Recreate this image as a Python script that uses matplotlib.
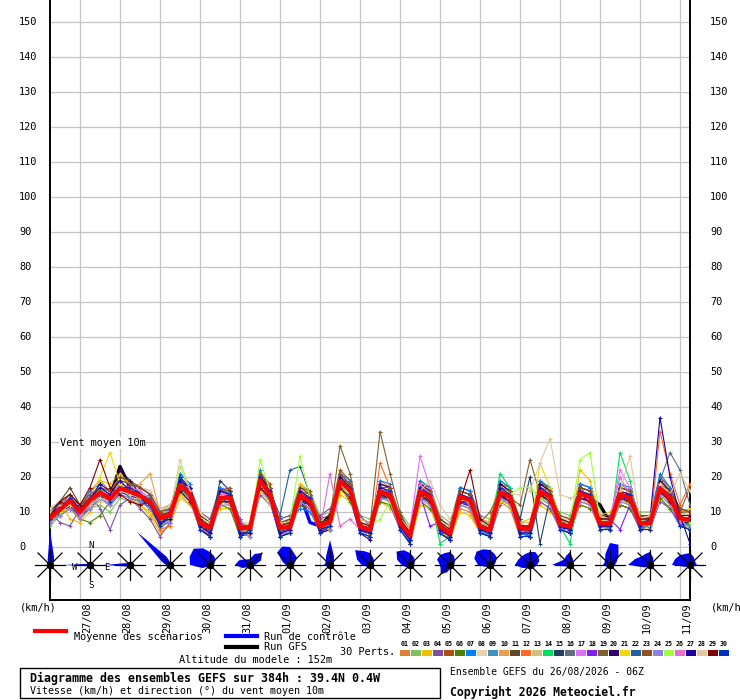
import numpy as np
import matplotlib
matplotlib.use("Agg")
import matplotlib.pyplot as plt
from matplotlib.lines import Line2D
from matplotlib.patches import Rectangle, Polygon

### DONNEES
# pas de 6h depuis le 26/08 06Z jusqu'a 384h
heures = np.arange(0, 385, 6)
dates = ['27/08', '28/08', '29/08', '30/08', '31/08', '01/09', '02/09', '03/09',
         '04/09', '05/09', '06/09', '07/09', '08/09', '09/09', '10/09', '11/09']
graduations = list(range(0, 151, 10))

moyenne = [8.3, 10.6, 13.2, 10.0, 13.4, 15.6, 13.8, 16.8, 15.8, 14.6, 12.9, 8.2, 9.1, 17.7, 15.1,
           6.8, 5.4, 14.0, 14.0, 5.4, 5.4, 19.1, 14.9, 5.4, 5.8, 14.9, 12.9, 5.8, 7.2, 18.7, 16.3,
           5.8, 4.9, 15.8, 14.9, 6.8, 3.4, 15.8, 14.4, 5.8, 3.9, 14.4, 13.4, 5.8, 4.9, 15.5, 14.4,
           5.3, 5.3, 15.8, 14.4, 6.5, 5.8, 15.3, 14.2, 6.8, 6.8, 15.1, 14.0, 6.8, 6.8, 16.8, 14.2,
           8.2, 7.7]

controle = [8, 10, 12, 9, 13, 15, 13, 16, 15, 14, 13, 8, 8, 17, 15, 6, 5, 13, 13, 5, 4, 18, 14,
            4, 5, 15, 7, 6, 7, 18, 15, 5, 4, 15, 14, 6, 2, 15, 13, 5, 3, 13, 12, 5, 4, 15, 13,
            4, 4, 15, 13, 6, 5, 15, 13, 6, 6, 14, 13, 6, 6, 16, 13, 7, 6]

gfs = [8, 11, 13, 10, 13, 16, 14, 23, 17, 15, 13, 8, 9, 18, 15, 7, 5, 14, 14, 5, 5, 19, 15,
       5, 6, 15, 13, 6, 9, 18, 16, 6, 5, 16, 15, 7, 3, 16, 14, 6, 4, 14, 13, 6, 5, 16, 14,
       5, 5, 16, 14, 7, 6, 15, 14, 12, 7, 15, 14, 7, 7, 17, 14, 8, 8]

pert01 = [10,13,15, 12,16,19,16, 20,18,14,11, 5,8,21,18, 5,3,12,16, 3,7,22,17, 3,4,13,11, 4,5,16,19, 4,3,19,17, 5,1,13,12, 4,2,11,10, 4,3,13,11, 3,7,19,16, 5,4,12,11, 9,5,18,16, 5,9,20,16, 6,5]
pert02 = [6,9,11, 8,11,12,10, 14,13,12,15, 10,12,15,12, 9,7,17,12, 8,3,16,12, 8,9,18,16, 9,10,22,13, 9,8,13,12, 10,6,19,17, 9,7,17,16, 9,8,19,17, 8,3,13,11, 10,9,18,17, 5,5,12,11, 10,10,14,11, 11,6]
pert03 = [11,13,8, 7,10,19,18, 21,18,12,9, 4,6,14,12, 8,6,11,11, 4,6,16,17, 3,4,18,15, 4,5,15,13, 7,3,13,11, 8,1,12,11, 4,2,10,9, 4,8,19,11, 7,8,12,10, 8,4,22,19, 9,10,12,11, 5,8,14,16, 10,11]
pert04 = [10,7,6, 11,15,11,5, 12,14,11,8, 3,7,16,17, 10,8,17,16, 8,4,15,12, 8,9,12,10, 9,11,16,18, 9,6,18,12, 5,5,18,17, 8,6,17,16, 9,3,12,15, 4,3,13,11, 5,4,18,17, 9,8,12,11, 5,5,13,11, 6,5]
pert05 = [7,12,15, 12,11,14,13, 15,18,17,16, 11,12,16,13, 6,3,16,17, 6,3,21,18, 6,8,17,16, 5,8,22,19, 5,6,13,17, 8,2,18,17, 5,3,17,16, 7,4,18,17, 4,6,18,17, 8,7,18,12, 8,5,13,17, 8,8,20,17, 11,10]
pert06 = [9,9,11, 8,7,9,13, 16,17,17,15, 9,11,20,13, 8,6,12,11, 3,6,17,13, 6,7,12,11, 7,8,17,13, 7,6,13,12, 9,4,13,11, 7,5,12,11, 7,6,14,12, 6,6,19,16, 8,7,12,11, 8,8,12,11, 8,8,14,11, 9,6]
pert07 = [10,13,12, 11,16,18,12, 18,14,13,15, 7,11,21,18, 5,6,17,15, 4,4,22,13, 4,7,11,10, 5,5,21,19, 4,3,19,18, 5,2,19,17, 4,2,17,16, 5,3,19,17, 4,3,19,17, 6,7,18,17, 5,5,18,17, 5,8,21,17, 9,5]
pert08 = [11,10,11, 9,12,13,12, 15,17,17,16, 11,12,14,16, 10,7,13,15, 7,7,16,12, 7,5,13,14, 7,8,17,14, 7,6,14,16, 8,5,13,12, 7,6,13,12, 7,7,14,15, 7,7,14,15, 8,7,14,15, 8,8,14,15, 8,9,15,12, 10,10]
pert09 = [7,13,15, 12,12,17,16, 19,18,13,11, 6,7,19,17, 5,3,15,15, 3,4,21,17, 3,4,16,14, 4,5,20,18, 4,3,15,16, 5,2,17,15, 4,3,13,14, 4,4,17,16, 4,4,17,15, 5,4,16,15, 6,5,16,13, 5,6,18,15, 6,6]
pert10 = [10,12,14, 11,15,14,15, 18,17,18,21, 10,7,16,13, 8,6,13,15, 6,6,17,16, 6,7,14,12, 7,8,17,14, 7,6,17,13, 8,4,15,15, 7,5,13,12, 7,6,14,15, 6,6,15,15, 8,7,14,12, 8,8,14,12, 8,8,16,15, 9,9]
pert11 = [9,13,17, 12,14,17,15, 20,19,17,15, 10,11,19,17, 9,7,16,16, 7,6,20,17, 7,8,17,15, 8,9,20,18, 8,7,18,17, 9,5,18,16, 8,6,16,15, 8,7,18,16, 7,7,18,16, 9,8,17,16, 9,9,17,16, 9,9,19,16, 11,10]
pert12 = [7,9,11, 8,11,17,12, 15,14,12,10, 5,6,18,16, 5,3,15,12, 4,3,17,13, 4,4,13,11, 4,5,20,17, 4,3,24,17, 5,2,18,13, 4,2,15,12, 4,3,17,13, 3,3,17,13, 5,4,13,12, 5,5,16,15, 5,5,33,21, 12,18]
pert13 = [10,12,13, 11,11,13,15, 17,14,13,14, 10,10,16,13, 8,7,13,12, 7,6,17,13, 7,7,13,14, 7,8,17,14, 8,7,14,13, 8,5,14,15, 7,6,13,14, 8,7,14,12, 7,7,14,12, 8,8,13,12, 9,8,13,12, 8,8,15,15, 10,9]
pert14 = [7,10,14, 11,14,16,13, 18,15,16,14, 7,10,16,14, 6,4,15,15, 4,6,17,16, 4,7,16,14, 5,6,17,17, 5,4,17,16, 6,2,17,15, 1,3,15,14, 5,4,21,17, 4,4,14,15, 6,1,16,15, 6,5,27,19, 6,6,17,15, 7,6]
pert15 = [10,13,12, 9,11,14,15, 17,15,14,11, 7,8,17,14, 6,4,19,16, 4,4,17,13, 4,5,13,12, 5,6,17,17, 5,4,14,14, 6,2,14,13, 5,3,13,12, 5,4,14,15, 8,20,1,14, 6,5,14,15, 6,6,14,15, 6,6,15,15, 7,7]
pert16 = [9,10,12, 9,12,15,13, 16,15,14,12, 7,8,17,14, 6,4,13,13, 4,4,18,14, 4,5,14,12, 5,6,18,15, 5,4,15,14, 6,2,15,13, 5,3,13,12, 5,4,15,13, 4,4,15,13, 6,5,14,13, 6,6,14,13, 6,9,19,27, 22,12]
pert17 = [9,11,13, 11,14,17,15, 18,17,16,14, 9,10,18,16, 8,6,15,15, 6,6,20,16, 6,7,16,14, 7,8,20,17, 7,6,17,16, 8,5,26,17, 7,5,15,14, 7,6,17,15, 6,6,17,15, 8,7,16,15, 8,8,22,17, 8,8,18,15, 9,9]
pert18 = [9,12,11, 9,12,14,12, 15,18,17,15, 10,8,19,16, 8,6,13,13, 7,4,18,16, 6,5,14,12, 7,5,17,15, 7,6,15,14, 8,2,15,6, 7,5,13,12, 7,6,15,13, 6,6,15,13, 8,7,14,13, 8,8,5,12, 8,6,16,13, 9,7]
pert19 = [8,11,13, 10,13,16,14, 17,16,15,13, 8,9,18,15, 7,5,14,14, 5,5,19,15, 5,6,15,13, 6,8,29,21, 7,6,33,21, 10,4,16,14, 6,4,14,13, 7,10,16,14, 12,25,15,13, 9,8,15,14, 8,7,15,14, 9,8,17,14, 10,17]
pert20 = [9,12,14, 11,14,18,16, 22,19,15,12, 6,8,20,17, 5,3,16,15, 3,4,20,17, 3,4,14,12, 4,5,19,17, 4,2,18,17, 5,1,18,16, 4,2,16,15, 4,3,18,16, 3,3,18,16, 5,4,17,16, 5,5,17,16, 5,5,19,16, 6,5]
pert21 = [9,10,11, 8,14,20,27, 18,14,12,10, 6,8,15,13, 5,6,13,12, 6,3,16,13, 6,4,13,15, 7,5,16,14, 7,4,17,13, 8,2,15,13, 4,3,12,11, 7,4,13,12, 6,4,24,17, 8,5,14,15, 5,5,13,12, 7,5,15,13, 8,5]
pert22 = [8,12,14, 10,12,14,15, 17,14,13,14, 9,8,16,16, 8,4,15,13, 6,4,17,16, 9,22,23,15, 7,6,17,17, 7,4,14,16, 8,2,17,13, 7,3,15,14, 7,4,14,15, 6,4,15,15, 8,5,16,13, 8,6,14,15, 8,6,15,15, 9,7]
pert23 = [8,12,14, 12,15,17,16, 19,18,17,15, 10,11,19,17, 8,6,16,15, 6,6,21,17, 6,7,16,15, 7,8,21,18, 7,6,17,17, 8,4,17,16, 7,5,16,15, 7,6,17,16, 6,6,17,16, 8,7,17,16, 8,8,17,16, 8,8,18,16, 10,10]
pert24 = [7,9,11, 8,11,14,12, 15,14,13,11, 7,7,16,13, 5,4,12,12, 4,3,17,13, 4,4,13,11, 5,5,17,14, 5,4,14,13, 5,2,14,12, 5,3,12,11, 5,4,14,12, 4,4,14,12, 5,5,13,12, 6,5,13,12, 6,6,15,12, 7,6]
pert25 = [9,10,12, 11,12,17,13, 16,17,14,12, 9,8,23,16, 6,6,15,13, 6,4,25,16, 6,7,26,14, 7,6,17,15, 7,6,8,13, 6,4,15,15, 7,5,15,12, 7,6,17,15, 17,17,14,13, 8,7,25,27, 8,6,14,13, 8,6,16,15, 9,7]
pert26 = [8,12,14, 9,12,16,15, 17,17,16,12, 7,10,18,14, 6,6,15,15, 4,6,19,14, 4,5,16,14, 5,21,6,8, 5,6,17,14, 6,4,18,15, 5,5,15,12, 5,6,17,13, 4,6,17,13, 6,7,16,13, 6,8,20,15, 6,8,18,13, 7,9]
pert27 = [9,12,13, 10,14,17,15, 19,16,14,12, 7,8,19,17, 6,4,16,15, 4,4,20,16, 4,5,16,14, 5,6,20,17, 5,4,17,16, 6,2,17,15, 5,3,15,14, 5,4,17,15, 4,4,17,15, 6,5,16,15, 6,6,16,15, 6,8,37,20, 9,1]
pert28 = [10,12,12, 10,12,14,13, 16,15,14,13, 9,10,25,16, 8,6,14,13, 6,6,18,14, 6,6,14,13, 6,7,18,15, 7,6,16,16, 8,5,16,19, 12,8,14,13, 7,6,15,15, 15,16,24,31, 15,14,15,14, 8,7,16,26, 8,9,18,15, 21,16]
pert29 = [9,13,15, 12,17,25,17, 15,13,12,13, 9,10,16,13, 8,6,13,13, 6,6,17,14, 6,7,14,12, 7,8,17,14, 7,6,15,14, 8,4,15,13, 7,5,13,22, 8,6,15,13, 6,6,15,13, 8,7,14,13, 8,8,14,13, 8,8,16,13, 9,9]
pert30 = [8,11,14, 11,14,16,13, 17,17,15,12, 6,9,20,15, 5,3,14,15, 3,5,20,14, 3,4,15,14, 4,6,19,17, 4,3,16,16, 5,1,16,15, 4,2,14,14, 4,3,16,15, 3,3,16,15, 5,4,15,15, 5,5,15,15, 5,5,17,15, 6,5]

perts = [pert01, pert02, pert03, pert04, pert05, pert06, pert07, pert08, pert09, pert10,
         pert11, pert12, pert13, pert14, pert15, pert16, pert17, pert18, pert19, pert20,
         pert21, pert22, pert23, pert24, pert25, pert26, pert27, pert28, pert29, pert30]
couleurs = ['#e08030', '#80c060', '#f0c000', '#8050a0', '#b05010', '#508000', '#0080ff', '#e8d0b0',
            '#4090c0', '#e8a050', '#604820', '#ff6820', '#d0c080', '#00e060', '#204060', '#607080',
            '#e070ff', '#8020f0', '#806030', '#300070', '#f0d800', '#2060a0', '#905020', '#9080e0',
            '#a0ff40', '#e070d0', '#2000a0', '#e0c8a0', '#800000', '#0030c0']

# roses des vents: rayon (px) pour N, NNE, NE, ... NNW
rose00 = [35, 10, 6, 3, 2, 1, 1, 1, 1, 1, 1, 1, 2, 3, 3, 6]
rose01 = [2, 1, 1, 1, 8, 1, 1, 1, 1, 1, 1, 3, 27, 3, 1, 1]
rose02 = [2, 1, 1, 1, 4, 1, 1, 1, 1, 1, 1, 4, 25, 5, 2, 2]
rose03 = [3, 2, 1, 1, 1, 1, 1, 1, 1, 1, 1, 2, 4, 9, 47, 9]
rose04 = [13, 10, 8, 5, 3, 2, 2, 2, 2, 2, 2, 8, 20, 22, 23, 18]
rose05 = [6, 12, 17, 12, 5, 2, 2, 2, 3, 2, 3, 8, 15, 12, 8, 6]
rose06 = [18, 12, 10, 5, 3, 2, 2, 2, 2, 2, 2, 3, 4, 8, 18, 20]
rose07 = [25, 10, 6, 4, 4, 2, 2, 2, 2, 2, 2, 3, 6, 5, 6, 10]
rose08 = [12, 8, 6, 4, 3, 2, 2, 2, 2, 2, 2, 4, 8, 14, 21, 15]
rose09 = [12, 9, 7, 5, 4, 4, 5, 3, 3, 3, 3, 5, 8, 14, 19, 16]
rose10 = [13, 10, 7, 5, 4, 3, 3, 3, 4, 8, 13, 10, 10, 14, 14, 13]
rose11 = [15, 12, 10, 6, 4, 3, 2, 2, 2, 2, 2, 5, 12, 17, 19, 17]
rose12 = [13, 14, 12, 10, 7, 5, 4, 4, 5, 4, 4, 8, 15, 13, 12, 12]
rose13 = [13, 7, 5, 4, 3, 2, 2, 2, 3, 2, 2, 4, 18, 10, 8, 10]
rose14 = [22, 22, 12, 7, 5, 4, 3, 3, 3, 3, 3, 4, 7, 6, 7, 12]
rose15 = [13, 8, 5, 4, 3, 2, 2, 2, 2, 2, 3, 6, 22, 16, 12, 12]
rose16 = [12, 9, 7, 6, 7, 3, 2, 2, 2, 2, 2, 5, 18, 16, 14, 12]
roses = [rose00, rose01, rose02, rose03, rose04, rose05, rose06, rose07, rose08,
         rose09, rose10, rose11, rose12, rose13, rose14, rose15, rose16]

for p in perts:
    assert len(p) == len(heures)


### MISE EN PAGE (coordonnees pixels de l'image 740x700)
W, H = 740, 700
def hx(px):          # pixel x -> heures
    return (px - 50) * 0.6
def vy(py):          # pixel y -> km/h
    return (547 - py) / 3.5
def fx(px):
    return px / W
def fy(py):
    return 1 - py / H

mono = 'DejaVu Sans Mono'
fig = plt.figure(figsize=(W / 100, H / 100), dpi=100)
ax = fig.add_axes([fx(50), fy(600), 640 / W, 600 / H])
ax.set_xlim(0, 384)
ax.set_ylim(vy(600), vy(0))

ax.set_xticks(np.arange(18, 384, 24))
ax.set_yticks(graduations)
ax.tick_params(length=0, labelleft=False, labelbottom=False)
ax.grid(True, color='#c4c4c4', lw=0.9)
ax.set_axisbelow(True)
ax.spines['top'].set_visible(False)
for s in ['left', 'right', 'bottom']:
    ax.spines[s].set_linewidth(1.4)

# courbes
ax.plot(heures, gfs, color='black', lw=2.4, zorder=2)
ax.plot(heures, controle, color='#0000ff', lw=2.4, zorder=2)
for p, c in zip(perts, couleurs):
    ax.plot(heures, p, color=c, lw=0.8, marker='+', ms=3.5, mew=0.8, zorder=3)
ax.plot(heures, moyenne, color='red', lw=3.0, zorder=4)

# roses des vents
angles = np.radians(np.arange(16) * 22.5)
yc = vy(565)
for k, r in enumerate(roses):
    xc = 24 * k
    r = np.array(r, dtype=float)
    pts = np.column_stack([xc + r * np.sin(angles) * 0.6, yc + r * np.cos(angles) / 3.5])
    ax.add_patch(Polygon(pts, closed=True, color='#0000ff', lw=0, zorder=5, clip_on=False))
    for dx, dy in [(15, 0), (0, 15), (12, 12), (12, -12)]:
        ax.plot([xc - dx * 0.6, xc + dx * 0.6], [yc - dy / 3.5, yc + dy / 3.5],
                color='black', lw=0.9, zorder=6, clip_on=False)
    ax.plot(xc, yc, 'o', color='black', ms=4.5, zorder=7, clip_on=False)

# points cardinaux autour de la deuxieme rose
for lettre, px, py in [('N', 91, 546), ('S', 91, 586), ('W', 75, 567), ('E', 107, 567)]:
    ax.text(hx(px), vy(py), lettre, family=mono, fontsize=6.5, ha='center', va='center',
            zorder=8)

ax.text(hx(60), vy(443), 'Vent moyen 10m', family=mono, fontsize=7.4, ha='left', va='center',
        bbox=dict(facecolor='white', edgecolor='none', pad=0.5), zorder=1)

# graduations des deux cotes
for g in graduations:
    fig.text(fx(19), fy(547 - 3.5 * g), str(g), family=mono, fontsize=7.4, ha='left', va='center')
    fig.text(fx(710), fy(547 - 3.5 * g), str(g), family=mono, fontsize=7.4, ha='left', va='center')
fig.text(fx(20), fy(607), '(km/h)', family=mono, fontsize=7.4, ha='left', va='center')
fig.text(fx(711), fy(607), '(km/h)', family=mono, fontsize=7.4, ha='left', va='center')

# dates
for i, d in enumerate(dates):
    fig.text(fx(87 + 40 * i), fy(602), d, family=mono, fontsize=7.4, rotation=90,
             ha='center', va='top')

# legende
fig.add_artist(Line2D([fx(35), fx(66)], [fy(631), fy(631)], color='red', lw=3))
fig.text(fx(74), fy(637), 'Moyenne des scénarios', family=mono, fontsize=7.4, va='center')
fig.add_artist(Line2D([fx(226), fx(257)], [fy(636), fy(636)], color='#0000ff', lw=3))
fig.text(fx(264), fy(637), 'Run de contrôle', family=mono, fontsize=7.4, va='center')
fig.add_artist(Line2D([fx(226), fx(257)], [fy(647), fy(647)], color='black', lw=3))
fig.text(fx(264), fy(647), 'Run GFS', family=mono, fontsize=7.4, va='center')
fig.text(fx(340), fy(652), '30 Perts.', family=mono, fontsize=7.4, va='center')
fig.text(fx(179), fy(660), 'Altitude du modele : 152m', family=mono, fontsize=7.4, va='center')

for i, c in enumerate(couleurs):
    x0 = 400 + 11 * i
    fig.text(fx(x0 + 5), fy(643.5), '%02d' % (i + 1), family=mono, fontsize=4.8,
             weight='bold', ha='center', va='center')
    fig.add_artist(Rectangle((fx(x0), fy(656)), 10 / W, 6 / H, color=c, lw=0))

# cadre titre
fig.add_artist(Rectangle((fx(20), fy(698)), 420 / W, 30 / H, facecolor='none',
                         edgecolor='black', lw=1))
fig.text(fx(30), fy(678), 'Diagramme des ensembles GEFS sur 384h : 39.4N 0.4W', family=mono,
         fontsize=8.4, weight='bold', va='center')
fig.text(fx(30), fy(691), 'Vitesse (km/h) et direction (°) du vent moyen 10m', family=mono,
         fontsize=7.2, va='center')
fig.text(fx(450), fy(672), 'Ensemble GEFS du 26/08/2026 - 06Z', family=mono, fontsize=7.0,
         va='center')
fig.text(fx(450), fy(692), 'Copyright 2026 Meteociel.fr', family=mono, fontsize=8.3,
         weight='bold', va='center')

fig.savefig('out.png', dpi=100)
